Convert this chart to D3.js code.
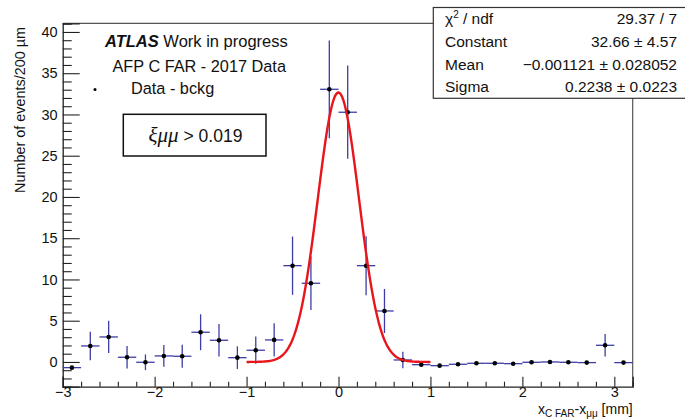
<!DOCTYPE html>
<html>
<head>
<meta charset="utf-8">
<script src="https://cdn.jsdelivr.net/npm/d3@7"></script>
<style>
  html, body { margin: 0; padding: 0; background: #fff; }
  svg { display: block; }
  text { font-family: "Liberation Sans", Arial, sans-serif; fill: #111; }
</style>
</head>
<body>
<svg id="chart" width="685" height="420"></svg>
<script>
// ---------------- data ----------------
const binCenters = [-2.9, -2.7, -2.5, -2.3, -2.1, -1.9, -1.7, -1.5, -1.3, -1.1,
                    -0.9, -0.7, -0.5, -0.3, -0.1, 0.1, 0.3, 0.5, 0.7, 0.9,
                    1.1, 1.3, 1.5, 1.7, 1.9, 2.1, 2.3, 2.5, 2.7, 2.9, 3.1];
const counts = [-0.69, 1.94, 3.03, 0.57, -0.04, 0.73, 0.69, 3.60, 2.63, 0.52,
                1.42, 2.67, 11.67, 9.54, 33.05, 30.27, 11.67, 6.18, 0.24, -0.33,
                -0.45, -0.28, -0.16, -0.16, -0.21, -0.04, 0.00, -0.04, -0.08, 2.02, -0.08];
const errors = [0, 1.72, 1.96, 1.35, 0.95, 1.31, 1.39, 2.18, 1.96, 1.37,
                1.65, 2.02, 3.53, 3.23, 5.92, 5.65, 3.58, 2.67, 1.00, 0,
                0, 0, 0, 0, 0, 0, 0, 0, 0, 1.37, 0];
const binHalfWidth = 0.1;
// Gaussian fit parameters (from the stats box)
const fitConstant = 32.66, fitMean = -0.001121, fitSigma = 0.2238;
const fitRange = [-1, 1];
const statLabels = ["χ² / ndf", "Constant", "Mean", "Sigma"];
const statValues = ["29.37 / 7", "32.66 ± 4.57", "−0.001121 ± 0.028052", "0.2238 ± 0.0223"];
const xMajorTicks = [-3, -2, -1, 0, 1, 2, 3];
const yMajorTicks = [0, 5, 10, 15, 20, 25, 30, 35, 40];
const xDomain = [-3, 3.2];
const yDomain = [-3, 41.05];

// ---------------- layout ----------------
const svg = d3.select("#chart");
const L = 62.7, R = 632.7, T = 23.3, B = 386.7;
const x = d3.scaleLinear().domain(xDomain).range([L, R]);
const y = d3.scaleLinear().domain(yDomain).range([B, T]);
const axisColor = "#222";
const frameColor = "#555";
const errColor = "#3d3da6";
const intFmt = d3.format("d");

// frame (top & right)
svg.append("path")
  .attr("d", `M${L},${T}H${R}V${B}`)
  .attr("fill", "none").attr("stroke", frameColor).attr("stroke-width", 1.2);

// y axis minor ticks
const yMinor = d3.range(-3, 42, 1).filter(v => v % 5 !== 0);
svg.append("g").attr("transform", `translate(${L},0)`)
  .call(d3.axisLeft(y).tickValues(yMinor).tickSize(-9).tickFormat(""))
  .call(g => g.select(".domain").remove())
  .call(g => g.selectAll("line").attr("stroke", axisColor).attr("stroke-width", 1.1));
// y axis major
svg.append("g").attr("transform", `translate(${L},0)`)
  .call(d3.axisLeft(y).tickValues(yMajorTicks).tickSize(-17).tickPadding(5).tickFormat(intFmt))
  .call(g => g.select(".domain").attr("stroke", axisColor).attr("stroke-width", 1.3))
  .call(g => g.selectAll("line").attr("stroke", axisColor).attr("stroke-width", 1.1))
  .call(g => g.selectAll("text").attr("font-size", 14.5).attr("fill", "#111")
              .attr("font-family", "Liberation Sans, Arial, sans-serif"));

// x axis minor
const xMinor = d3.range(-30, 33, 2).map(v => v / 10).filter(v => Math.abs(v - Math.round(v)) > 1e-6);
svg.append("g").attr("transform", `translate(0,${B})`)
  .call(d3.axisBottom(x).tickValues(xMinor).tickSize(-5).tickFormat(""))
  .call(g => g.select(".domain").remove())
  .call(g => g.selectAll("line").attr("stroke", axisColor).attr("stroke-width", 1.1));
// x axis major
svg.append("g").attr("transform", `translate(0,${B})`)
  .call(d3.axisBottom(x).tickValues(xMajorTicks).tickSize(-10).tickPadding(0).tickFormat(intFmt))
  .call(g => g.select(".domain").attr("stroke", axisColor).attr("stroke-width", 1.3))
  .call(g => g.selectAll("line").attr("stroke", axisColor).attr("stroke-width", 1.1))
  .call(g => g.selectAll("text").attr("font-size", 14.5).attr("fill", "#111")
              .attr("font-family", "Liberation Sans, Arial, sans-serif"));

// axis titles
svg.append("text")
  .attr("transform", `translate(25,27) rotate(-90)`)
  .attr("text-anchor", "end").attr("font-size", 14.4)
  .text("Number of events/200 µm");

const xt = svg.append("text").attr("x", R).attr("y", 413.5)
  .attr("text-anchor", "end").attr("font-size", 14);
xt.append("tspan").text("x");
xt.append("tspan").attr("font-size", 10).attr("dy", 3.5).text("C FAR");
xt.append("tspan").attr("dy", -3.5).text("-x");
xt.append("tspan").attr("font-size", 10).attr("dy", 3.5).text("μμ");
xt.append("tspan").attr("dy", -3.5).text(" [mm]");

// ---------------- data points ----------------
const pts = binCenters.map((c, i) => ({ c, v: counts[i], e: errors[i] }));
const gp = svg.append("g");
gp.selectAll("line.h").data(pts).join("line")
  .attr("x1", d => x(d.c - binHalfWidth)).attr("x2", d => x(d.c + binHalfWidth))
  .attr("y1", d => y(d.v)).attr("y2", d => y(d.v))
  .attr("stroke", errColor).attr("stroke-width", 1.3);
gp.selectAll("line.v").data(pts.filter(d => d.e > 0)).join("line")
  .attr("x1", d => x(d.c)).attr("x2", d => x(d.c))
  .attr("y1", d => y(d.v - d.e)).attr("y2", d => y(d.v + d.e))
  .attr("stroke", errColor).attr("stroke-width", 1.3);

// fit curve
const fitX = d3.range(0, 201).map(i => fitRange[0] + (fitRange[1] - fitRange[0]) * i / 200);
const gauss = xx => fitConstant * Math.exp(-0.5 * Math.pow((xx - fitMean) / fitSigma, 2));
svg.append("path")
  .datum(fitX)
  .attr("d", d3.line().x(d => x(d)).y(d => y(gauss(d))).curve(d3.curveLinear))
  .attr("fill", "none").attr("stroke", "#e8161c").attr("stroke-width", 2.4);

gp.selectAll("circle").data(pts).join("circle")
  .attr("cx", d => x(d.c)).attr("cy", d => y(d.v)).attr("r", 2.3)
  .attr("fill", "#000");

// ---------------- labels ----------------
const t1 = svg.append("text").attr("x", 105).attr("y", 47).attr("font-size", 16.5);
t1.append("tspan").attr("font-weight", "bold").attr("font-style", "italic").text("ATLAS");
t1.append("tspan").text(" Work in progress");
svg.append("text").attr("x", 112.5).attr("y", 71.5).attr("font-size", 16.3).text("AFP C FAR - 2017 Data");
svg.append("circle").attr("cx", 95).attr("cy", 89.5).attr("r", 1.5).attr("fill", "#000");
svg.append("text").attr("x", 131).attr("y", 94).attr("font-size", 16.3).text("Data - bckg");

svg.append("rect").attr("x", 123.3).attr("y", 114.3).attr("width", 142.7).attr("height", 41.7)
  .attr("fill", "#fff").attr("stroke", "#111").attr("stroke-width", 1.5);
const xi = svg.append("text").attr("x", 195.5).attr("y", 142).attr("text-anchor", "middle");
xi.append("tspan").attr("font-family", "Liberation Serif, Times New Roman, serif")
  .attr("font-style", "italic").attr("font-size", 21).text("ξμμ");
xi.append("tspan").attr("font-size", 17.5).text(" > 0.019");

// ---------------- stats box ----------------
svg.append("rect").attr("x", 433.3).attr("y", 7.5).attr("width", 260).attr("height", 90.8)
  .attr("fill", "#fff").attr("stroke", "#333").attr("stroke-width", 1.2);
const rowBase = [23.5, 46.5, 69.5, 92];
statLabels.forEach((lab, i) => {
  const tl = svg.append("text").attr("x", 445).attr("y", rowBase[i]).attr("font-size", 15.5);
  if (i === 0) {
    tl.append("tspan").text("χ");
    tl.append("tspan").attr("font-size", 10).attr("dy", -6).text("2");
    tl.append("tspan").attr("dy", 6).text(" / ndf");
  } else {
    tl.text(lab);
  }
  svg.append("text").attr("x", 677).attr("y", rowBase[i]).attr("font-size", 15.5)
    .attr("text-anchor", "end").text(statValues[i]);
});
</script>
</body>
</html>
